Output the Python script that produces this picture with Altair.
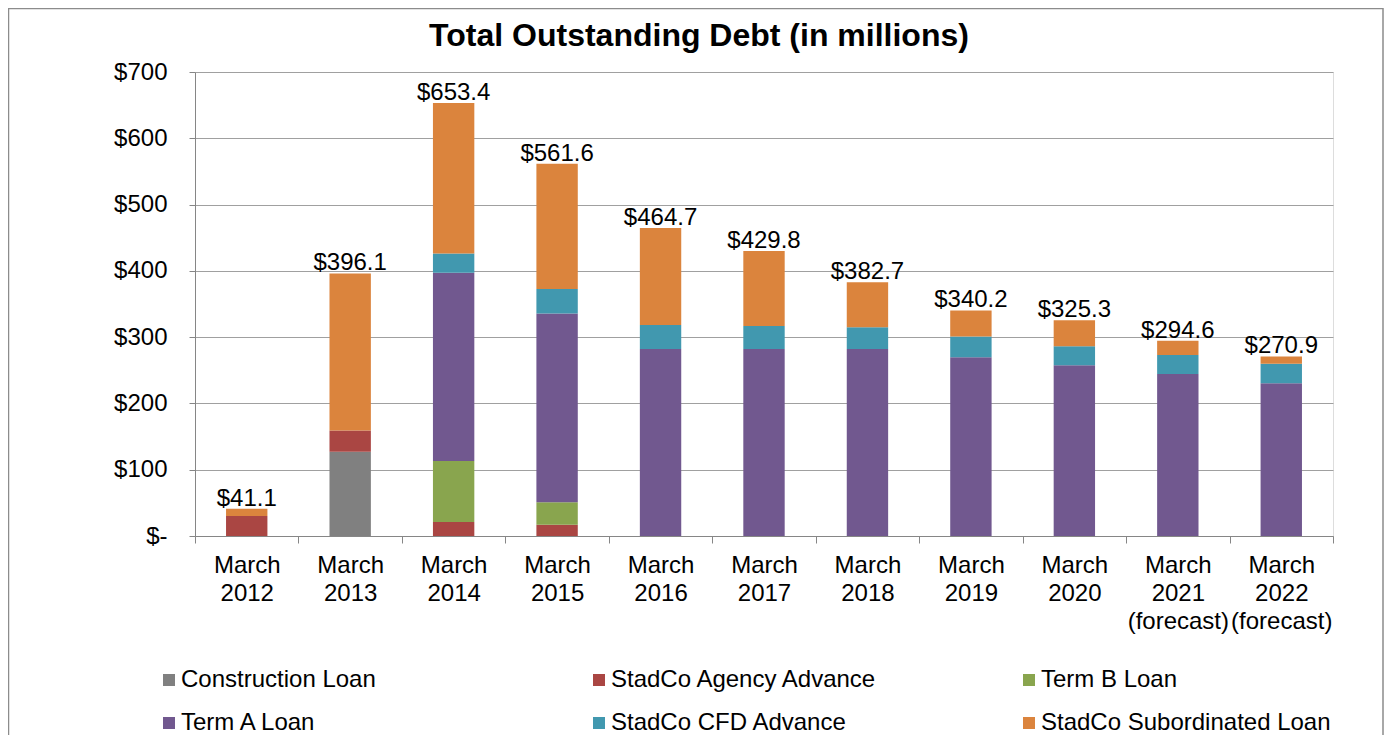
import altair as alt
import pandas as pd

categories = ["March|2012", "March|2013", "March|2014", "March|2015", "March|2016",
              "March|2017", "March|2018", "March|2019", "March|2020",
              "March|2021|(forecast)", "March|2022|(forecast)"]

series_names = ["Construction Loan", "StadCo Agency Advance", "Term B Loan",
                "Term A Loan", "StadCo CFD Advance", "StadCo Subordinated Loan"]
series_colors = ["#808080", "#AA4643", "#89A54E", "#71588F", "#4198AF", "#DB843D"]

construction = [0, 127, 0, 0, 0, 0, 0, 0, 0, 0, 0]
agency = [30, 32, 21, 17, 0, 0, 0, 0, 0, 0, 0]
term_b = [0, 0, 92, 34, 0, 0, 0, 0, 0, 0, 0]
term_a = [0, 0, 284, 284.6, 282, 282, 282, 269.6, 257.5, 244.4, 230.4]
cfd = [0, 0, 29, 37, 36.3, 34.8, 32.8, 31.2, 28.7, 28.6, 29.6]
subordinated = [11.1, 237.1, 227.4, 189, 146.4, 113, 67.9, 39.4, 39.1, 21.6, 10.9]
totals = [41.1, 396.1, 653.4, 561.6, 464.7, 429.8, 382.7, 340.2, 325.3, 294.6, 270.9]

series_values = [construction, agency, term_b, term_a, cfd, subordinated]

rows = []
for i, (name, vals) in enumerate(zip(series_names, series_values)):
    for cat, v in zip(categories, vals):
        rows.append({"period": cat, "series": name, "amount": v, "idx": i})
df = pd.DataFrame(rows)
tot_df = pd.DataFrame({"period": categories, "total": totals})

FONT = "Liberation Sans"

x_enc = alt.X(
    "period:N", sort=categories,
    scale=alt.Scale(paddingInner=0, paddingOuter=0),
    axis=alt.Axis(
        title=None, labelAngle=0, labelExpr="split(datum.label, '|')",
        tickBand="extent", tickSize=7, tickColor="#868686", domainColor="#868686",
        labelFontSize=24, labelColor="black", labelBaseline="top",
        labelLineHeight=28, labelPadding=10, labelFont=FONT, grid=False,
    ),
)

y_enc = alt.Y(
    "amount:Q",
    scale=alt.Scale(domain=[0, 700], nice=False),
    axis=alt.Axis(
        title=None, values=[0, 100, 200, 300, 400, 500, 600, 700],
        labelExpr="datum.value == 0 ? '$-' : '$' + datum.value",
        grid=True, gridColor="#A0A0A0", domainColor="#868686", tickColor="#868686",
        tickSize=6, labelPadding=22, labelFontSize=24, labelColor="black",
        labelFont=FONT,
    ),
)

bars = alt.Chart(df).mark_bar(width={"band": 0.4}).encode(
    x=x_enc,
    y=y_enc,
    color=alt.Color(
        "series:N",
        scale=alt.Scale(domain=series_names, range=series_colors),
        legend=alt.Legend(
            title=None, orient="none", direction="horizontal",
            legendX=-38, legendY=596, columns=3,
            gridAlign="all", columnPadding=116, rowPadding=19,
            symbolType="square", symbolSize=144, symbolStrokeWidth=0,
            labelFontSize=24, labelOffset=0, labelLimit=400, labelFont=FONT,
            labelColor="black", padding=0,
        ),
    ),
    order=alt.Order("idx:Q", sort="ascending"),
)

labels = alt.Chart(tot_df).mark_text(
    fontSize=24, baseline="alphabetic", dy=-3, font=FONT, color="black"
).encode(
    x=alt.X("period:N", sort=categories),
    y=alt.Y("total:Q"),
    text=alt.Text("total:Q", format="$.1f"),
)

border = alt.Chart(alt.Data(values=[{"a": 1}])).mark_rect(
    fillOpacity=0, stroke="#8C8C8C", strokeWidth=1.5
).encode(
    x=alt.value(-186.5), x2=alt.value(1188), y=alt.value(-63.5), y2=alt.value(900)
)

chart = alt.layer(border, bars, labels).properties(
    width=1138, height=464,
    title=alt.Title(
        "Total Outstanding Debt (in millions)", fontSize=32, fontWeight="bold",
        font=FONT, color="black", anchor="middle", frame="group",
        baseline="alphabetic", dx=-65, offset=-70,
    ),
    autosize=alt.AutoSizeParams(type="none"),
    padding={"left": 187, "top": 64, "right": 51, "bottom": 199},
).configure_view(stroke=None).configure(font=FONT)

chart.save("out.html", embed_options={"renderer": "svg", "actions": False})
